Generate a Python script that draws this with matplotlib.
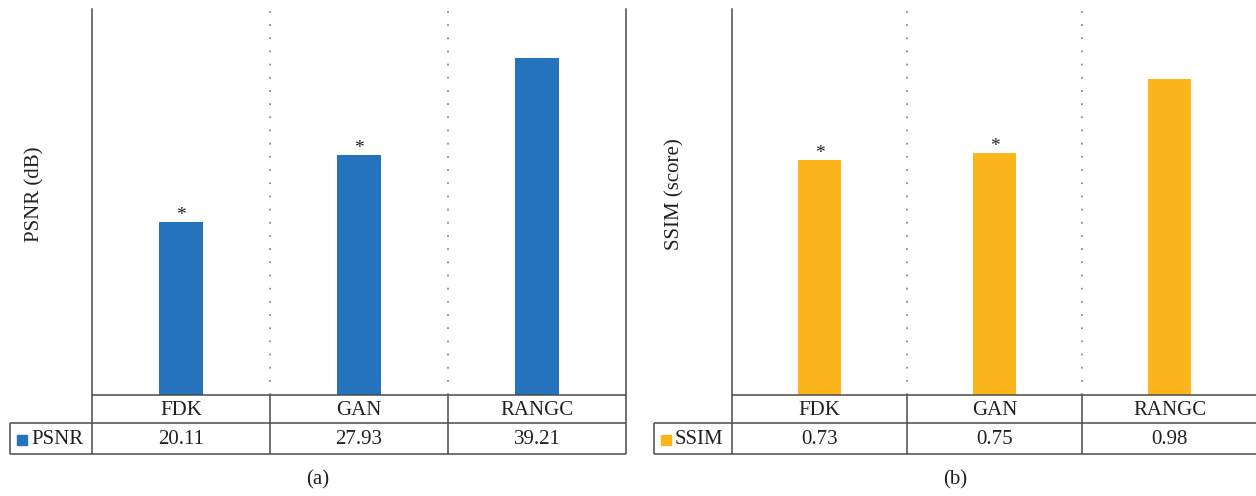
import numpy as np
import matplotlib
matplotlib.use("Agg")
import matplotlib.pyplot as plt

plt.rcParams['font.family'] = ['Liberation Serif', 'DejaVu Serif']

methods = ['FDK', 'GAN', 'RANGC']
psnr = [20.11, 27.93, 39.21]
ssim = [0.73, 0.75, 0.98]
psnr_star = [True, True, False]
ssim_star = [True, True, False]

W, H = 1256, 496
LINE = '#4a4a4a'
TXT = '#231f20'
FS = 15


def fx(px):
    return px / W


def fy(py):
    return 1 - py / H


def drawPanel(fig, leg_px, left_px, right_px, values, stars, ymax, color, name, ylabel, letter):
    top, bot, mid, tb = 9, 395, 423, 454
    ax = fig.add_axes([fx(left_px), fy(bot), fx(right_px - left_px), (bot - top) / H])
    n = len(values)
    x = np.arange(n)
    ax.bar(x, values, width=0.25, color=color, zorder=3)
    ax.set_xlim(-0.5, n - 0.5)
    ax.set_ylim(0, ymax)
    ax.set_xticks([])
    ax.set_yticks([])
    for s in ['top', 'bottom']:
        ax.spines[s].set_visible(False)
    for s in ['left', 'right']:
        ax.spines[s].set_color(LINE)
        ax.spines[s].set_linewidth(1.1)
    # dotted separators between the groups
    for b in np.arange(0.5, n - 0.5):
        ax.axvline(b, color='#8a8a8a', lw=1.3, ls=(0, (1.0, 6.3)), zorder=1)
    for i, v in enumerate(values):
        if stars[i]:
            ax.annotate('*', (i, v), xytext=(0, -1.5), textcoords='offset points',
                        ha='center', va='bottom', fontsize=14, color=TXT)
    ax.set_ylabel(ylabel, fontsize=FS, color=TXT)
    ax.yaxis.set_label_coords(-48 / (right_px - left_px), 0.52)

    # table under the bars
    col = (right_px - left_px) / n
    lw_cols = (left_px - leg_px) / col
    tax = fig.add_axes([fx(leg_px), fy(tb), fx(right_px - leg_px), (tb - bot) / H])
    tax.set_xlim(-0.5 - lw_cols, n - 0.5)
    tax.set_ylim(0, tb - bot)
    tax.axis('off')
    yb = tb - mid
    yt = tb - bot
    kw = dict(color=LINE, lw=1.1, solid_capstyle='butt', clip_on=False)
    tax.plot([-0.5, n - 0.5], [yt, yt], **kw)
    tax.plot([-0.5 - lw_cols, n - 0.5], [yb, yb], **kw)
    tax.plot([-0.5 - lw_cols, n - 0.5], [0, 0], **kw)
    tax.plot([-0.5 - lw_cols, -0.5 - lw_cols], [0, yb], **kw)
    for b in np.arange(-0.5, n):
        tax.plot([b, b], [0, yt], **kw)
    for i, m in enumerate(methods):
        tax.text(i, (yb + yt) / 2 - 1.5, m, ha='center', va='center', fontsize=FS, color=TXT)
        tax.text(i, yb / 2 - 1.5, f'{values[i]:.2f}', ha='center', va='center', fontsize=FS, color=TXT)
    sq_x = -0.5 - lw_cols + 12 / col
    tax.plot([sq_x], [yb / 2 - 1], marker='s', ms=7.2, color=color, ls='none', clip_on=False)
    tax.text(sq_x + 9 / col, yb / 2 - 1.5, name, ha='left', va='center', fontsize=FS, color=TXT)

    fig.text(fx((leg_px + right_px) / 2), fy(480), letter, ha='center', va='center',
             fontsize=FS, color=TXT)


fig = plt.figure(figsize=(W / 100, H / 100), dpi=100)
drawPanel(fig, 10, 92, 626, psnr, psnr_star, 44.9, '#2572bd', 'PSNR', 'PSNR (dB)', '(a)')
drawPanel(fig, 654, 732, 1257, ssim, ssim_star, 1.197, '#fcb51c', 'SSIM', 'SSIM (score)', '(b)')
fig.savefig('out.png', dpi=100)
